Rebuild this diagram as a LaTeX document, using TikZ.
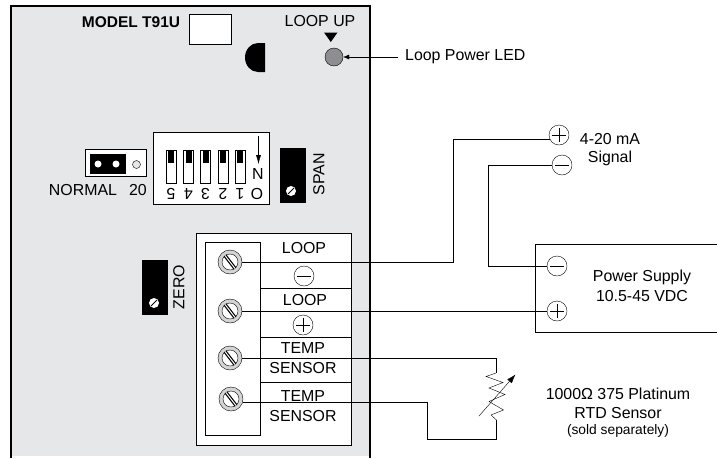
\documentclass[tikz,border=0pt]{standalone}
\usepackage{fontspec}
\setmainfont{Liberation Sans}
\usetikzlibrary{arrows.meta, calc, shapes.geometric}
\definecolor{panelgray}{HTML}{E6E7E8}
\definecolor{ledgray}{HTML}{8E8E92}
\definecolor{ringgray}{HTML}{D4D4D4}
\tikzset{
	x=1pt, y=-1pt, line width=0.9pt,
	lbl/.style = {inner sep=0pt, font=\fontsize{15.9}{18}\selectfont},
	whitebox/.style = {draw, fill=white},
	term/.style = {circle, draw, fill=white, minimum size=20pt, inner sep=0pt},
	termplus/.style = {term, path picture={\draw (path picture bounding box.center) +(-7,0) -- +(7,0) +(0,-7) -- +(0,7);}},
	termminus/.style = {term, path picture={\draw (path picture bounding box.center) +(-7,0) -- +(7,0);}},
	screw/.style = {circle, draw, fill=ringgray, minimum size=24pt, inner sep=0pt},
	screwin/.style = {circle, draw, fill=white, minimum size=16pt, inner sep=0pt},
	trimdot/.style = {circle, fill=white, minimum size=10pt, inner sep=0pt},
	switchbox/.style = {draw, fill=white, minimum width=10pt, minimum height=33pt, inner sep=0pt},
	wire/.style = {line join=miter}
}
\begin{document}
\begin{tikzpicture}
	\useasboundingbox (0,0) rectangle (717,458);
	% Board
	\fill[panelgray] (11,6) rectangle (370,456);
	\draw[line width=1.5pt] (11,458) -- (11,6) -- (370,6) -- (370,458);

	% Top row
	\node[lbl, font=\fontsize{15.5}{18}\selectfont\bfseries] (model) at (131,22) {MODEL T91U};
	\draw[whitebox] (189.5,14) rectangle (231.5,44.5);
	\fill (265,43) -- (258,43) arc[start angle=-90, end angle=-270, x radius=13, y radius=14.5] -- (265,72) -- cycle;
	\node[lbl] (loopup) at (320,21) {LOOP UP};
	\fill (324,32.5) -- (337.5,32.5) -- (330.8,42) -- cycle;
	\node[circle, draw, fill=ledgray, minimum size=18pt, inner sep=0pt] (led) at (334,57) {};
	\node[lbl, anchor=west] (ledlbl) at (405,57) {Loop Power LED};
	\draw[-{Latex[length=6pt,width=5pt]}] (ledlbl.west) ++(-7,0) -- (led.east);

	% Jumper
	\draw[whitebox] (85,149.5) rectangle (146,176);
	\fill (90,154) rectangle (125.5,173.5);
	\fill[white] (98,164) circle (3.5) (116,164) circle (3.5);
	\draw[fill=panelgray, thin] (136.5,164.5) circle (4);
	\node[lbl] (normal) at (83,190) {NORMAL};
	\node[lbl] (twenty) at (138,190) {20};

	% DIP switches
	\node[whitebox, minimum width=116pt, minimum height=72pt, inner sep=0pt] (dip) at (211,168) {};
	\foreach \sx/\txt in {171/5, 188.5/4, 205.5/3, 223/2, 240/1} {
		\node[switchbox] at (\sx,166.5) {};
		\fill (\sx-3,150) rectangle (\sx+3,163);
		\node[lbl, rotate=180] at (\sx,194) {\txt};
	}
	\node[lbl, rotate=180] (dipo) at (257,194) {O};
	\node[lbl, rotate=180] (dipn) at (258,174) {N};
	\draw[-{Latex[length=9pt,width=5pt]}] (258.5,136) -- (258.5,164);

	% Trim pots
	\fill (280,148) rectangle (306,203);
	\node[trimdot] (spandot) at (291,191) {};
	\draw[thick] (spandot) +(-3,3) -- +(3,-3);
	\node[lbl, rotate=90] (span) at (319,174) {SPAN};
	\fill (142,260) rectangle (168,315);
	\node[trimdot] (zerodot) at (154,303) {};
	\draw[thick] (zerodot) +(-3,3) -- +(3,-3);
	\node[lbl, rotate=90] (zero) at (179,287) {ZERO};

	% Terminal block
	\draw[whitebox] (196,233.5) rectangle (351,445);
	\draw (205,242.5) rectangle (260,435);
	\draw (260,288) -- (351,288) (260,337.5) -- (351,337.5) (260,382.5) -- (351,382.5);
	\foreach \nm/\sx/\sy in {scra/230/262, scrb/230/311, scrc/230/358, scrd/231/399} {
		\node[screw] (\nm) at (\sx,\sy) {};
		\node[screwin] at (\nm) {};
		\draw[line width=3.4pt] (\nm) +(-5,-6.5) -- +(5,6.5);
		\draw[white, line width=1pt] (\nm) +(-5,-6.5) -- +(5,6.5);
	}
	\node[lbl] (tlooptop) at (304,248) {LOOP};
	\node[termminus] (tminus) at (304,276) {};
	\node[lbl] (tloopbot) at (305,300) {LOOP};
	\node[termplus] (tplus) at (303,325) {};
	\node[lbl] (ttempa) at (303,348) {TEMP};
	\node[lbl] (tsensa) at (303,368) {SENSOR};
	\node[lbl] (ttempb) at (303,396) {TEMP};
	\node[lbl] (tsensb) at (303,416) {SENSOR};

	% Signal terminals
	\node[termplus] (sigp) at (559,135) {};
	\node[termminus] (sigm) at (562,165) {};
	\node[lbl] (siga) at (610,139) {4-20 mA};
	\node[lbl] (sigb) at (610,158) {Signal};

	% Power supply
	\draw (717,244) -- (535,244) -- (535,332) -- (717,332);
	\node[termminus] (psm) at (557,266) {};
	\node[termplus] (psp) at (557,311) {};
	\node[lbl] (psa) at (642,277) {Power Supply};
	\node[lbl] (psb) at (642,296) {10.5-45 VDC};

	% RTD
	\coordinate (rtop) at (496,373);
	\coordinate (rbot) at (496.5,420);
	\draw[wire] (rtop) -- (486,376.5) -- (503,382.5) -- (489,388) -- (505,394.5) -- (489,401.5) -- (503.5,410) -- (491,415) -- (rbot);
	\draw[-{Latex[length=9pt,width=6pt]}] (479,416) -- (515.5,374.5);
	\node[lbl] (rtda) at (618,394) {1000Ω 375 Platinum};
	\node[lbl] (rtdb) at (618,413) {RTD Sensor};
	\node[lbl, font=\fontsize{13.8}{16}\selectfont] (rtdc) at (618,431) {(sold separately)};

	% Wires
	\draw[wire] (scra.east) -- (453,262) |- (sigp.204);
	\draw[wire] (sigm.west) -- (488,165) -- (488,266) -- (psm.west);
	\draw[wire] (scrb.east) -- (psp.west);
	\draw[wire] (scrc.east) -- (496,358) -- (rtop);
	\draw[wire] (scrd.east) ++(0,3) -- (427,402) -- (427,439) -- (496.5,439) -- (rbot);
\end{tikzpicture}
\end{document}
